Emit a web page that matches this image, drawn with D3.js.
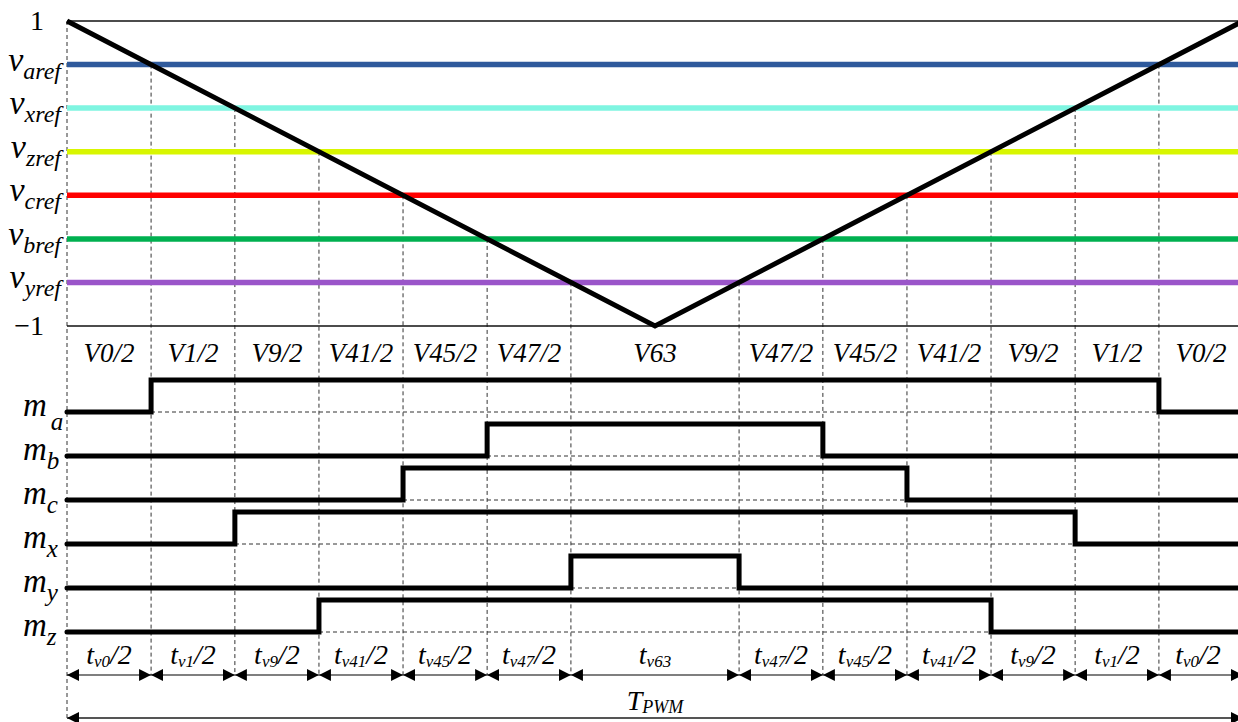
<!DOCTYPE html>
<html><head>
<script src="https://cdn.jsdelivr.net/npm/d3@7"></script>
</head>
<body style="margin:0"><svg id="c" width="1238" height="722" font-family="Liberation Serif, Times New Roman, Times, serif"></svg>
<script>
// ---- data ----
const refKeys   = ["aref","xref","zref","cref","bref","yref"];
const refValues = [0.714, 0.429, 0.143, -0.143, -0.429, -0.714];
const refColors = ["#2F5A9C","#7FF5E1","#D8F600","#FF0000","#00B050","#9A55C9"];
const yTickValues = [1, -1];
const yTickLabels = ["1", "\u22121"];
const carrierTimes  = [0, 0.5, 1];
const carrierValues = [1, -1, 1];
const vectorLabels = ["V0/2","V1/2","V9/2","V41/2","V45/2","V47/2","V63","V47/2","V45/2","V41/2","V9/2","V1/2","V0/2"];
const timeSubs     = ["v0","v1","v9","v41","v45","v47","v63","v47","v45","v41","v9","v1","v0"];
const timeSuffix   = ["/2","/2","/2","/2","/2","/2","","/2","/2","/2","/2","/2","/2"];
const switchNames  = ["a","b","c","x","y","z"];
const switchRefs   = ["aref","bref","cref","xref","yref","zref"];

// ---- scales ----
const svg = d3.select("#c");
const x = d3.scaleLinear().domain([0,1]).range([67,1243]);
const y = d3.scaleLinear().domain([-1,1]).range([326,21]);
const rowY = d3.scalePoint().domain(switchNames).range([412,632]);
const pulseH = 32;
const dash = "4,3";

const cross = v => [(1 - v) / 4, (3 + v) / 4];
const refMap = {};
refKeys.forEach((k,i)=>refMap[k]=refValues[i]);

const bounds = [0];
refValues.forEach(v=>{ const c=cross(v); bounds.push(c[0], c[1]); });
bounds.push(1);
bounds.sort((a,b)=>a-b);

function txt(sel, size, italic) {
  const t = sel.append("text").attr("font-family", "Times New Roman").attr("font-size", size);
  if (italic) t.attr("font-style","italic");
  return t;
}

// ---- vertical dashed lines ----
const vg = svg.append("g").attr("stroke","#333").attr("stroke-width",1).attr("stroke-dasharray",dash);
vg.append("line").attr("x1",x(0)).attr("x2",x(0)).attr("y1",y(1)).attr("y2",718);
refValues.forEach(v=>{
  cross(v).forEach(t=>{
    vg.append("line").attr("x1",x(t)).attr("x2",x(t)).attr("y1",y(v)).attr("y2",675);
  });
});

// ---- axis lines at 1 and -1 ----
yTickValues.forEach((v,i)=>{
  svg.append("line").attr("x1",x(0)).attr("x2",1238).attr("y1",y(v)).attr("y2",y(v))
    .attr("stroke","#111").attr("stroke-width",1.6);
  txt(svg, 28, false).attr("x", 44).attr("y", y(v)+9)
    .attr("text-anchor","end").text(yTickLabels[i]);
});

// ---- reference lines ----
refKeys.forEach((k,i)=>{
  svg.append("line").attr("x1",x(0)).attr("x2",1238).attr("y1",y(refValues[i])).attr("y2",y(refValues[i]))
    .attr("stroke",refColors[i]).attr("stroke-width",5.5);
  const t = txt(svg, 34, true).attr("x",61).attr("y",y(refValues[i])+6).attr("text-anchor","end");
  t.append("tspan").text("v");
  t.append("tspan").attr("font-size",24).attr("dy",8).text(k);
});

// ---- carrier ----
svg.append("path")
  .datum(carrierTimes.map((t,i)=>[t,carrierValues[i]]))
  .attr("d", d3.line().x(d=>x(d[0])).y(d=>y(d[1])))
  .attr("fill","none").attr("stroke","#000").attr("stroke-width",5).attr("stroke-linejoin","miter");

// ---- vector labels ----
vectorLabels.forEach((lab,i)=>{
  const xc = (x(bounds[i]) + x(bounds[i+1])) / 2;
  txt(svg, 27, true).attr("x",xc).attr("y",362).attr("text-anchor","middle").text(lab);
});

// ---- switching signals ----
switchNames.forEach((n,i)=>{
  const base = rowY(n);
  const v = refMap[switchRefs[i]];
  const [t1,t2] = cross(v);
  svg.append("line").attr("x1",x(0)).attr("x2",1238).attr("y1",base).attr("y2",base)
    .attr("stroke","#333").attr("stroke-width",1).attr("stroke-dasharray",dash);
  const pts = [[0,0],[t1,0],[t1,1],[t2,1],[t2,0],[1,0]];
  svg.append("path").datum(pts)
    .attr("d", d3.line().x(d=>x(d[0])).y(d=>base - d[1]*pulseH))
    .attr("fill","none").attr("stroke","#000").attr("stroke-width",5).attr("stroke-linecap","round");
  const t = txt(svg, 33, true).attr("x",23).attr("y",base+4);
  t.append("tspan").text("m");
  t.append("tspan").attr("font-size",25).attr("dx", n==="a"?4:0).attr("dy",n==="a"?14:9).text(n);
});

// ---- arrow markers ----
const defs = svg.append("defs");
defs.append("marker").attr("id","ah").attr("viewBox","0 0 12 12").attr("refX",12).attr("refY",6)
  .attr("markerWidth",12).attr("markerHeight",12).attr("markerUnits","userSpaceOnUse").attr("orient","auto-start-reverse")
  .append("path").attr("d","M0,0L12,6L0,12Z").attr("fill","#000");

// ---- time arrows ----
timeSubs.forEach((s,i)=>{
  const xa = x(bounds[i]);
  svg.append("line").attr("x1",xa).attr("x2",x(bounds[i+1])).attr("y1",675).attr("y2",675)
    .attr("stroke","#000").attr("stroke-width",1.2)
    .attr("marker-start","url(#ah)").attr("marker-end","url(#ah)");
  const xc = (xa + x(bounds[i+1])) / 2 - (i===12?3:0);
  const t = txt(svg, 28, true).attr("x",xc).attr("y",664).attr("text-anchor","middle");
  t.append("tspan").text("t");
  t.append("tspan").attr("font-size",17).attr("dy",3).text(s);
  if (timeSuffix[i]) t.append("tspan").attr("dy",-3).text(timeSuffix[i]);
});

// ---- T_PWM ----
svg.append("line").attr("x1",x(0)).attr("x2",x(1)).attr("y1",718).attr("y2",718)
  .attr("stroke","#555").attr("stroke-width",2.2)
  .attr("marker-start","url(#ah)").attr("marker-end","url(#ah)");
const tp = txt(svg, 28, true).attr("x",(x(0)+x(1))/2).attr("y",710).attr("text-anchor","middle");
tp.append("tspan").text("T");
tp.append("tspan").attr("font-size",18).attr("dy",3).text("PWM");
</script></body></html>
